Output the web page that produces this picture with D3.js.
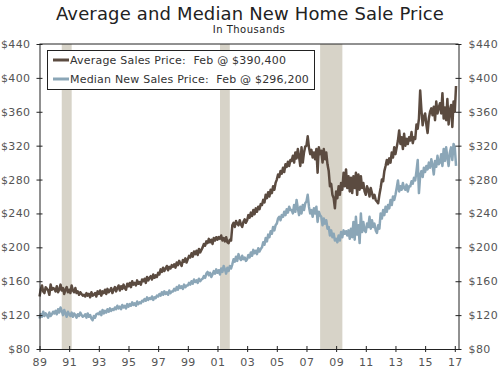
<!DOCTYPE html>
<html>
<head>
<meta charset="utf-8">
<script src="https://cdn.jsdelivr.net/npm/d3@7"></script>
<style>
  body { margin: 0; background: #fff; }
  svg { font-family: Verdana, "DejaVu Sans", sans-serif; }
</style>
</head>
<body>
<div class="chart"></div>
<script>
// monthly values, in thousands of dollars, Jan 1989 .. Feb 2017
const avgPrice = [
  142,150,155,148,146,153,151,149,144,156,150,152, // 1989
  151,148,154,147,150,156,149,152,145,150,153,147, // 1990
  150,146,155,149,147,152,146,148,144,147,145,143, // 1991
  144,142,146,143,145,141,147,143,144,146,142,148, // 1992
  145,149,143,148,146,150,145,151,147,149,152,146, // 1993
  150,153,148,152,155,149,154,151,156,152,150,157, // 1994
  154,158,153,160,156,158,155,161,157,159,156,162, // 1995
  160,163,158,165,161,164,166,162,168,164,167,165, // 1996
  170,168,174,171,176,172,175,178,173,177,175,179, // 1997
  177,180,176,182,179,184,181,178,185,183,187,182, // 1998
  186,190,188,193,189,195,192,196,191,198,194,197, // 1999
  200,204,202,207,205,210,206,209,204,211,208,212, // 2000
  209,212,210,214,208,211,207,212,206,205,209,208, // 2001
  226,229,224,231,228,226,232,227,224,230,233,229, // 2002
  232,238,235,241,237,244,239,246,242,248,245,251, // 2003
  250,256,253,262,258,265,260,268,264,272,268,276, // 2004
  280,286,283,290,287,294,289,298,295,301,296,303, // 2005
  302,308,300,312,305,316,307,296,318,300,312,319, // 2006
  320,331,318,310,315,306,312,304,316,288,318,310, // 2007
  314,300,316,304,312,298,290,272,275,262,258,246, // 2008
  266,258,272,262,276,268,288,272,292,270,284,266, // 2009
  282,264,284,270,288,262,286,268,284,270,276,266, // 2010
  262,272,268,260,270,264,258,262,256,254,252,262, // 2011
  270,280,278,290,296,303,298,305,300,312,306,318, // 2012
  310,318,326,338,322,330,316,334,320,328,322,330, // 2013
  326,336,323,330,328,345,340,352,385,362,344,354, // 2014
  358,345,335,352,360,364,356,366,350,372,358,365, // 2015
  370,358,382,352,365,350,375,345,362,368,342,372, // 2016
  360,390.4                                         // 2017
];
const medianPrice = [
  116,121,118,124,119,122,120,117,123,119,121,124, // 1989
  122,125,121,127,123,129,125,120,126,122,118,124, // 1990
  121,119,123,118,122,120,117,121,119,123,120,118, // 1991
  119,121,117,122,118,120,116,114,119,117,121,122, // 1992
  121,124,120,126,122,125,123,127,124,128,125,127, // 1993
  126,129,127,131,128,130,127,132,129,131,128,133, // 1994
  130,133,131,135,132,134,131,136,133,135,134,137, // 1995
  136,139,137,141,138,140,139,142,138,141,140,143, // 1996
  142,145,143,147,144,148,145,147,144,149,146,148, // 1997
  148,151,149,153,150,155,152,154,151,156,153,155, // 1998
  155,158,156,160,157,162,159,161,158,163,160,162, // 1999
  163,166,164,169,171,167,170,165,168,172,169,174, // 2000
  170,173,168,175,171,178,174,169,176,172,178,175, // 2001
  180,186,183,189,184,192,187,185,190,186,188,184, // 2002
  186,191,188,194,190,197,193,196,192,199,195,198, // 2003
  200,206,203,211,207,215,212,219,216,224,220,226, // 2004
  228,234,236,232,238,236,242,238,245,241,248,244, // 2005
  244,240,250,242,256,246,238,248,240,250,244,252, // 2006
  254,262,248,240,244,236,246,240,248,230,242,238, // 2007
  236,226,234,228,232,222,224,214,220,212,216,208, // 2008
  210,206,214,208,218,212,220,216,219,214,220,210, // 2009
  222,212,230,209,236,215,226,205,240,218,230,220, // 2010
  218,228,224,236,222,232,224,228,220,217,226,222, // 2011
  240,234,244,238,248,242,250,246,256,250,260,256, // 2012
  262,270,279,266,272,268,276,270,268,274,266,272, // 2013
  272,278,275,282,279,290,303,264,285,290,283,294, // 2014
  289,296,292,300,294,304,297,286,302,295,308,298, // 2015
  300,310,296,316,302,318,306,296,312,318,303,322, // 2016
  318,296.2                                         // 2017
];
const startYear = 1989;
const recessions = [[1990.5, 1991.17], [2001.17, 2001.83], [2007.92, 2009.42]];
const yTicks = [80, 120, 160, 200, 240, 280, 320, 360, 400, 440];
const xTicks = d3.range(1989, 2018, 2);
const legendLabels = ["Average Sales Price:  Feb @ $390,400", "Median New Sales Price:  Feb @ $296,200"];
const colors = ["#5b4b40", "#8ba6b7"];

const width = 500, height = 370;
const plot = { left: 39.5, right: 458.5, top: 44, bottom: 349 };

const svg = d3.select(".chart").append("svg")
  .attr("width", width)
  .attr("height", height);

const x = d3.scaleLinear().domain([1989, 2017.25]).range([plot.left, plot.right]);
const y = d3.scaleLinear().domain([80, 440]).range([plot.bottom, plot.top]);

// title
svg.append("text")
  .attr("x", 250).attr("y", 20)
  .attr("text-anchor", "middle")
  .attr("font-size", 18)
  .attr("letter-spacing", 0.15)
  .attr("fill", "#222")
  .text("Average and Median New Home Sale Price");
svg.append("text")
  .attr("x", 249).attr("y", 33)
  .attr("text-anchor", "middle")
  .attr("font-size", 10)
  .attr("letter-spacing", 0.5)
  .attr("fill", "#222")
  .text("In Thousands");

// recession shading
svg.append("g").selectAll("rect")
  .data(recessions)
  .join("rect")
  .attr("x", d => x(d[0]))
  .attr("width", d => x(d[1]) - x(d[0]))
  .attr("y", plot.top)
  .attr("height", plot.bottom - plot.top)
  .attr("fill", "#d7d3c8");

// lines
const series = [avgPrice, medianPrice];
const line = d3.line()
  .x((d, i) => x(startYear + i / 12))
  .y(d => y(d));

svg.append("g").selectAll("path")
  .data(series)
  .join("path")
  .attr("fill", "none")
  .attr("stroke", (d, i) => colors[i])
  .attr("stroke-width", 2.5)
  .attr("stroke-linejoin", "round")
  .attr("d", line);

// axes
const fmt = d => "$" + d;
const yLeft = d3.axisLeft(y).tickValues(yTicks).tickFormat(fmt).tickSizeInner(3).tickSizeOuter(0).tickPadding(6);
const yRight = d3.axisRight(y).tickValues(yTicks).tickFormat(fmt).tickSizeInner(3).tickSizeOuter(0).tickPadding(7);
const xAxis = d3.axisBottom(x).tickValues(xTicks).tickFormat(d => String(d).slice(2)).tickSizeInner(3).tickSizeOuter(0).tickPadding(6);

const gl = svg.append("g").attr("transform", `translate(${plot.left},0)`).call(yLeft);
const gr = svg.append("g").attr("transform", `translate(${plot.right},0)`).call(yRight);
const gx = svg.append("g").attr("transform", `translate(0,${plot.bottom})`).call(xAxis);

[gl, gr, gx].forEach(g => {
  g.select(".domain").attr("stroke", "#222");
  g.selectAll(".tick line").attr("stroke", "#222");
  g.selectAll(".tick text").attr("fill", "#555").attr("font-size", 11)
    .attr("letter-spacing", 0.4)
    .attr("font-family", 'Verdana, "DejaVu Sans", sans-serif');
});
// ticks cross the axis line
gl.selectAll(".tick line").attr("x1", 3);
gr.selectAll(".tick line").attr("x1", -3);
gx.selectAll(".tick line").attr("y1", -3);

// top border
svg.append("line")
  .attr("x1", plot.left).attr("x2", plot.right)
  .attr("y1", plot.top).attr("y2", plot.top)
  .attr("stroke", "#222");

// legend
const legend = svg.append("g");
legend.append("rect")
  .attr("x", 47.5).attr("y", 50.5)
  .attr("width", 267).attr("height", 39)
  .attr("fill", "#fff").attr("stroke", "#222");
const items = legend.selectAll("g.item")
  .data(legendLabels)
  .join("g").attr("class", "item")
  .attr("transform", (d, i) => `translate(53,${60 + i * 19})`);
items.append("line")
  .attr("x1", 0).attr("x2", 16)
  .attr("stroke", (d, i) => colors[i])
  .attr("stroke-width", 3);
items.append("text")
  .attr("x", 17).attr("dy", "0.35em")
  .attr("font-size", 11)
  .attr("letter-spacing", 0.2)
  .attr("fill", "#333")
  .style("white-space", "pre")
  .text(d => d);
</script>
</body>
</html>
